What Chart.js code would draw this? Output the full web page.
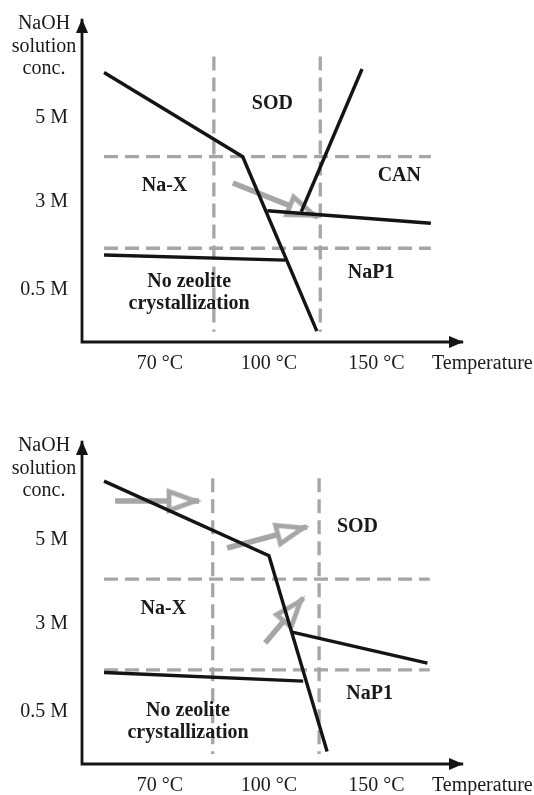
<!DOCTYPE html>
<html>
<head>
<meta charset="utf-8">
<script src="https://cdn.jsdelivr.net/npm/chart.js@4"></script>
<style>
  html, body { margin: 0; padding: 0; background: #fff; }
  canvas { display: block; }
</style>
</head>
<body>
<canvas id="topChart" width="534" height="422"></canvas>
<canvas id="bottomChart" width="534" height="373"></canvas>
<script>
// shared axis texts (diagram units: x 0..100 = temperature axis, y 0..100 = conc. axis)
const yTitleLines = ['NaOH', 'solution', 'conc.'];
const yTitleX = -10;
const yTitleY = [99.6, 92.4, 85.4];
const yTickLabels = ['5 M', '3 M', '0.5 M'];
const yTickValues = [70, 43.8, 16.4];
const yTickX = -3.7;
const xTickLabels = ['70 °C', '100 °C', '150 °C'];
const xTickValues = [20.5, 49.2, 77.5];
const xTickY = -6.9;
const xTitle = 'Temperature';
const xTitleX = 92.1;
const axisEnds = [{x: 0, y: 101}, {x: 0, y: 0}, {x: 100.3, y: 0}];

// top panel
const topBoundaries = [
    [{x: 5.8, y: 84.2}, {x: 42.3, y: 57.9}, {x: 61.8, y: 3.4}],
    [{x: 57.7, y: 40.7}, {x: 73.7, y: 85.3}],
    [{x: 48.8, y: 41.0}, {x: 91.8, y: 37.1}],
    [{x: 5.8, y: 27.2}, {x: 53.5, y: 25.6}]
];
const topGuideX = [34.7, 62.7];
const topGuideSpanY = [3.2, 89.2];
const topGuideY = [57.9, 29.3];
const topGuideSpanX = [5.8, 91.8];
const topArrowStarts = [{x: 39.7, y: 49.7}];
const topArrowTips = [{x: 62.1, y: 39.1}];
const topRegionNames = ['SOD', 'Na-X', 'CAN', 'NaP1', 'No zeolite', 'crystallization'];
const topRegionX = [50.1, 21.7, 83.5, 76.1, 28.2, 28.2];
const topRegionY = [74.3, 48.8, 52.0, 21.7, 18.8, 11.9];

// bottom panel
const bottomBoundaries = [
    [{x: 5.8, y: 88.4}, {x: 49.2, y: 65.1}, {x: 64.5, y: 3.9}],
    [{x: 55.3, y: 41.2}, {x: 90.9, y: 31.5}],
    [{x: 5.8, y: 28.6}, {x: 58.2, y: 25.9}]
];
const bottomGuideX = [34.4, 62.4];
const bottomGuideSpanY = [3.1, 89.3];
const bottomGuideY = [57.8, 29.4];
const bottomGuideSpanX = [5.8, 91.5];
const bottomArrowStarts = [{x: 8.7, y: 82.2}, {x: 38.2, y: 67.5}, {x: 48.2, y: 37.8}];
const bottomArrowTips = [{x: 30.8, y: 82.2}, {x: 59.2, y: 74.1}, {x: 58.2, y: 51.9}];
const bottomRegionNames = ['SOD', 'Na-X', 'NaP1', 'No zeolite', 'crystallization'];
const bottomRegionX = [72.5, 21.4, 75.7, 27.9, 27.9];
const bottomRegionY = [74.2, 48.6, 21.9, 16.7, 9.6];

const INK = '#141414';
const GREY = '#a6a6a6';

// arrowhead images, tip sits in the middle of the canvas
function makeHead(len, half, fill, stroke, lw, back) {
    const c = document.createElement('canvas');
    c.width = Math.ceil((len + back + lw) * 2);
    c.height = Math.ceil((half + lw) * 2);
    const g = c.getContext('2d');
    const cx = c.width / 2 - back, cy = c.height / 2;
    g.beginPath();
    g.moveTo(cx - len, cy - half);
    g.lineTo(cx, cy);
    g.lineTo(cx - len, cy + half);
    g.closePath();
    g.fillStyle = fill;
    g.fill();
    if (lw) {
        g.strokeStyle = stroke;
        g.lineWidth = lw;
        g.stroke();
    }
    return c;
}
const greyHead = makeHead(26, 9.5, '#fff', GREY, 4.8, 4);
const axisHead = makeHead(14, 6, INK, INK, 0, 0);

function headAngle(ctx) {
    const data = ctx.dataset.data;
    const i = ctx.dataIndex;
    const from = data[i === 0 ? 1 : i - 1];
    const to = data[i];
    const {x, y} = ctx.chart.scales;
    const dx = x.getPixelForValue(to.x) - x.getPixelForValue(from.x);
    const dy = y.getPixelForValue(to.y) - y.getPixelForValue(from.y);
    return Math.atan2(dy, dx) * 180 / Math.PI;
}

function boundaryDataset(points) {
    return {
        data: points,
        borderColor: INK,
        borderWidth: 3.4,
        borderJoinStyle: 'miter',
        pointRadius: 0,
        tension: 0
    };
}

function guideDataset(points) {
    return {
        data: points,
        borderColor: GREY,
        borderWidth: 3.3,
        borderDash: [14, 7],
        pointRadius: 0,
        tension: 0
    };
}

function arrowDataset(start, tip) {
    return {
        data: [start, tip],
        borderColor: GREY,
        borderWidth: 5.5,
        borderCapStyle: 'butt',
        pointStyle: greyHead,
        pointRadius: ctx => ctx.dataIndex === 1 ? 10 : 0,
        pointRotation: headAngle,
        tension: 0
    };
}

function axesDataset() {
    return {
        data: axisEnds,
        borderColor: INK,
        borderWidth: 2.8,
        borderJoinStyle: 'miter',
        pointStyle: axisHead,
        pointRadius: ctx => ctx.dataIndex === 1 ? 0 : 8,
        pointRotation: headAngle,
        tension: 0
    };
}

const textPlugin = {
    id: 'diagramText',
    afterDatasetsDraw(chart, args, opts) {
        const {ctx, scales: {x, y}} = chart;
        ctx.save();
        ctx.fillStyle = '#1a1a1a';
        ctx.textBaseline = 'middle';
        for (const t of opts.items) {
            ctx.font = (t.bold ? 'bold ' : '') + '20px "Liberation Serif", "Times New Roman", serif';
            ctx.textAlign = t.align;
            ctx.fillText(t.text, x.getPixelForValue(t.x), y.getPixelForValue(t.y));
        }
        ctx.restore();
    }
};

function buildChart(id, heightPx, boundaries, guideX, spanY, guideY, spanX, starts, tips, names, nx, ny) {
    const datasets = [];
    boundaries.forEach(b => datasets.push(boundaryDataset(b)));
    datasets.push(axesDataset());
    starts.forEach((s, i) => datasets.push(arrowDataset(s, tips[i])));
    guideX.forEach(gx => datasets.push(guideDataset([{x: gx, y: spanY[1]}, {x: gx, y: spanY[0]}])));
    guideY.forEach(gy => datasets.push(guideDataset([{x: spanX[0], y: gy}, {x: spanX[1], y: gy}])));

    const items = [];
    yTitleLines.forEach((t, i) => items.push({text: t, x: yTitleX, y: yTitleY[i], align: 'center'}));
    yTickLabels.forEach((t, i) => items.push({text: t, x: yTickX, y: yTickValues[i], align: 'right'}));
    xTickLabels.forEach((t, i) => items.push({text: t, x: xTickValues[i], y: xTickY, align: 'center'}));
    items.push({text: xTitle, x: xTitleX, y: xTickY, align: 'left'});
    names.forEach((t, i) => items.push({text: t, x: nx[i], y: ny[i], align: 'center', bold: true}));

    // 3.8 px per x unit, 3.2 px per y unit, origin at (82, 342)
    return new Chart(document.getElementById(id), {
        type: 'line',
        data: {datasets},
        options: {
            responsive: false,
            animation: false,
            events: [],
            layout: {padding: 0, autoPadding: false},
            scales: {
                x: {type: 'linear', display: false, min: -82 / 3.8, max: (534 - 82) / 3.8},
                y: {type: 'linear', display: false, min: -(heightPx - 342) / 3.2, max: 342 / 3.2}
            },
            plugins: {
                legend: {display: false},
                tooltip: {enabled: false},
                diagramText: {items}
            }
        },
        plugins: [textPlugin]
    });
}

buildChart('topChart', 422, topBoundaries, topGuideX, topGuideSpanY, topGuideY, topGuideSpanX,
    topArrowStarts, topArrowTips, topRegionNames, topRegionX, topRegionY);
buildChart('bottomChart', 373, bottomBoundaries, bottomGuideX, bottomGuideSpanY, bottomGuideY, bottomGuideSpanX,
    bottomArrowStarts, bottomArrowTips, bottomRegionNames, bottomRegionX, bottomRegionY);
</script>
</body>
</html>
